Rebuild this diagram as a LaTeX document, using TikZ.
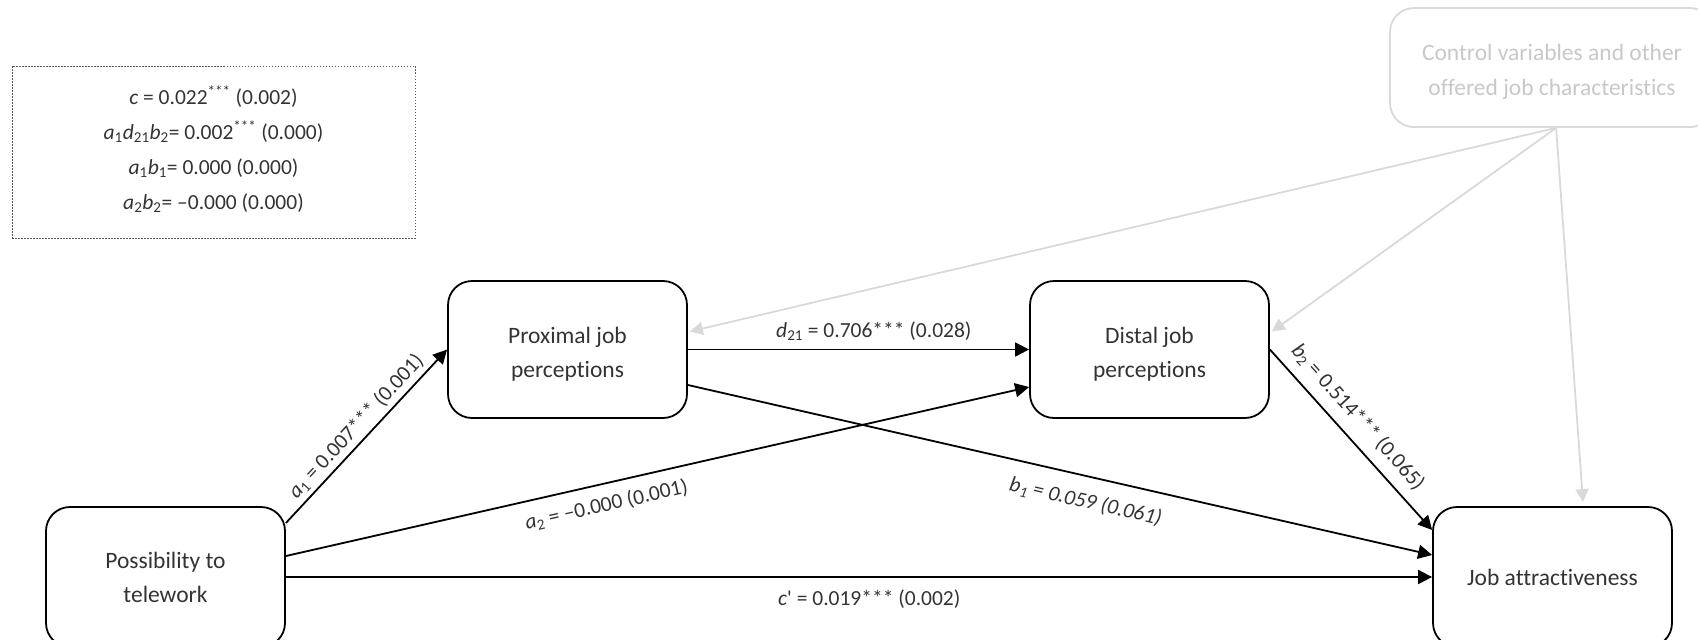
\documentclass[tikz,border=0pt]{standalone}
\usepackage{fontspec}
\setmainfont{Carlito}[Ligatures={NoCommon}]
\usetikzlibrary{arrows.meta,calc}
\definecolor{txt}{HTML}{333333}
\definecolor{lgray}{HTML}{D9D9D9}
\definecolor{ctext}{HTML}{C8C8C8}
\definecolor{dotc}{HTML}{595959}
\begin{document}
\begin{tikzpicture}[x=1pt,y=-1pt,
  box/.style={draw=black, line width=1.8pt, rounded corners=24pt, minimum width=239pt, minimum height=137pt, inner sep=0pt},
  boxtext/.style={align=center, text=txt, font=\fontsize{23.5}{34}\selectfont, inner sep=0pt},
  link/.style={line width=1.8pt, -{Triangle[length=14pt,width=14pt]}},
  glink/.style={draw=lgray, line width=1.8pt, -{Triangle[length=13pt,width=13pt]}},
  lab/.style={font=\fontsize{21.5}{26}\selectfont, text=txt, inner sep=4pt},
]
\useasboundingbox (0,0) rectangle (1698,640);

\node[box, minimum height=140pt] (poss) at (165.5,577) {};
\node[boxtext] (possT) at (poss) {Possibility to\\telework};
\node[box, minimum height=140pt] (job) at (1552.5,577) {};
\node[boxtext] (jobT) at (job) {Job attractiveness};
\node[box] (prox) at (567.5,349.5) {};
\node[boxtext] (proxT) at ($(prox)+(0,5)$) {Proximal job\\perceptions};
\node[box] (dist) at (1149.5,349.5) {};
\node[boxtext] (distT) at ($(dist)+(0,5)$) {Distal job\\perceptions};
\node[box, draw=lgray, minimum width=324pt, minimum height=119pt] (ctrl) at (1552,67.5) {};
\node[boxtext, text=ctext, font=\fontsize{23.5}{35}\selectfont] (ctrlT) at ($(ctrl)+(0,4.5)$) {Control variables and other\\offered job characteristics};

\node[draw=dotc, dash pattern=on 1.5pt off 1.5pt, line width=1pt, minimum width=403pt, minimum height=172pt, inner sep=0pt] (res) at (213.5,152) {};
\node[align=center, inner sep=0pt, font=\fontsize{21.5}{35}\selectfont, text=txt] (resT) at ($(res)+(0,-3)$)
  {\textit{c} = 0.022\textsuperscript{***} (0.002)\\
   \textit{a}\textsubscript{1}\textit{d}\textsubscript{21}\textit{b}\textsubscript{2}= 0.002\textsuperscript{***} (0.000)\\
   \textit{a}\textsubscript{1}\textit{b}\textsubscript{1}= 0.000 (0.000)\\
   \textit{a}\textsubscript{2}\textit{b}\textsubscript{2}= –0.000 (0.000)};

\coordinate (cb) at ($(ctrl.south west)+(167,0)$);

% gray control arrows
\draw[glink] (cb) -- ($(prox.east)+(2,-18)$);
\draw[glink] (cb) -- ($(dist.east)+(2,-18)$);
\draw[glink] (cb) -- ($(job.north)+(30.5,-4)$);

% black paths
\draw[link] ($(poss.east)+(0,-54)$) -- node[lab, above, sloped, inner sep=4pt] {\textit{a}\textsubscript{1} = 0.007*** (0.001)} (prox.west);
\draw[link] ($(poss.east)+(0,-21)$) -- node[lab, below, sloped, pos=0.425, inner sep=11pt] {\textit{a}\textsubscript{2} = –0.000 (0.001)} ($(dist.west)+(0,37.5)$);
\draw[link] (poss.east) -- node[lab, below, pos=0.509, inner sep=12pt] {\textit{c}\textquotesingle{} = 0.019*** (0.002)} (job.west);
\draw[link] (prox.east) -- node[lab, above, pos=0.545, inner sep=8pt] {\textit{d}\textsubscript{21} = 0.706*** (0.028)} (dist.west);
\draw[link] ($(prox.east)+(0,35.5)$) -- node[lab, below, sloped, pos=0.542, inner sep=15pt] {\textit{b\textsubscript{1} = 0.059 (0.061)}} ($(job.west)+(0,-22)$);
\draw[link] (dist.east) -- node[lab, above, sloped, pos=0.45, inner sep=10pt] {\textit{b}\textsubscript{2} = 0.514*** (0.065)} ($(job.west)+(0,-47)$);
\end{tikzpicture}
\end{document}
